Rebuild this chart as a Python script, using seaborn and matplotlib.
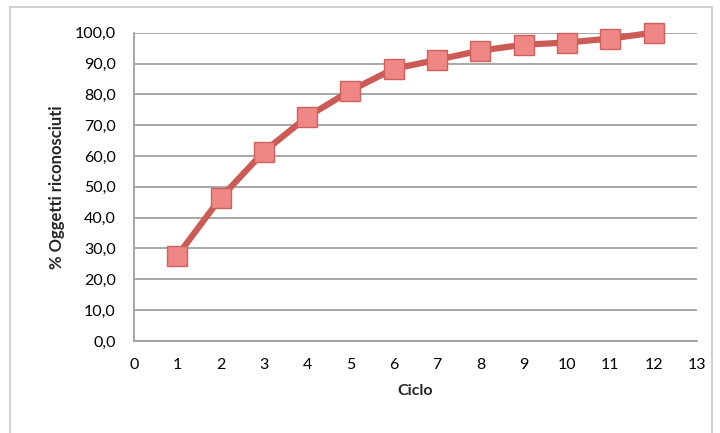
import matplotlib
matplotlib.use('Agg')
import matplotlib.pyplot as plt
import numpy as np
import pandas as pd
import seaborn as sns
from matplotlib.patches import Rectangle
from matplotlib.ticker import FuncFormatter

# data
cicli = [1, 2, 3, 4, 5, 6, 7, 8, 9, 10, 11, 12]
riconosciuti = [27.6, 46.4, 61.4, 72.7, 81.2, 88.3, 91.2, 94.2, 96.1, 96.8, 98.1, 100.0]

df = pd.DataFrame({'Ciclo': cicli, 'pct': riconosciuti})

sns.set_style('white')
plt.rcParams['font.family'] = ['Lato', 'DejaVu Sans']

fig = plt.figure(figsize=(7.2, 4.33), dpi=100)
ax = fig.add_axes([0.186, 0.2125, 0.782, 0.712])

sns.lineplot(data=df, x='Ciclo', y='pct', ax=ax, color='#CC5A55', linewidth=4.5,
             marker='s', markersize=14, markerfacecolor='#EE8785',
             markeredgecolor='#D0605C', markeredgewidth=1.0, zorder=3,
             clip_on=False)

ax.set_xlim(0, 13)
ax.set_ylim(0, 100)
ax.set_xticks(range(0, 14))
ax.set_yticks(np.arange(0, 101, 10))
ax.yaxis.set_major_formatter(FuncFormatter(lambda v, p: f"{v:.1f}".replace('.', ',')))
ax.grid(axis='y', color='#A0A0A0', linewidth=1.3)
ax.grid(axis='x', visible=False)
for s in ['top', 'right']:
    ax.spines[s].set_visible(False)
for s in ['left', 'bottom']:
    ax.spines[s].set_color('#A0A0A0')
    ax.spines[s].set_linewidth(1.3)
ax.tick_params(length=0, labelsize=11.5, colors='black')
ax.tick_params(axis='x', pad=12)
ax.tick_params(axis='y', pad=13)

ax.set_xlabel('Ciclo', fontsize=11.5, fontweight='bold', labelpad=9)
ax.set_ylabel('% Oggetti riconosciuti', fontsize=12, fontweight='bold', labelpad=7)

# chart frame as in the spreadsheet
fig.patches.append(Rectangle((10 / 720, -0.05), 0.975, 1 - 7 / 433 + 0.05,
                             transform=fig.transFigure, fill=False,
                             edgecolor='#C8C8C8', linewidth=1.2))

plt.savefig('out.png', dpi=100)
